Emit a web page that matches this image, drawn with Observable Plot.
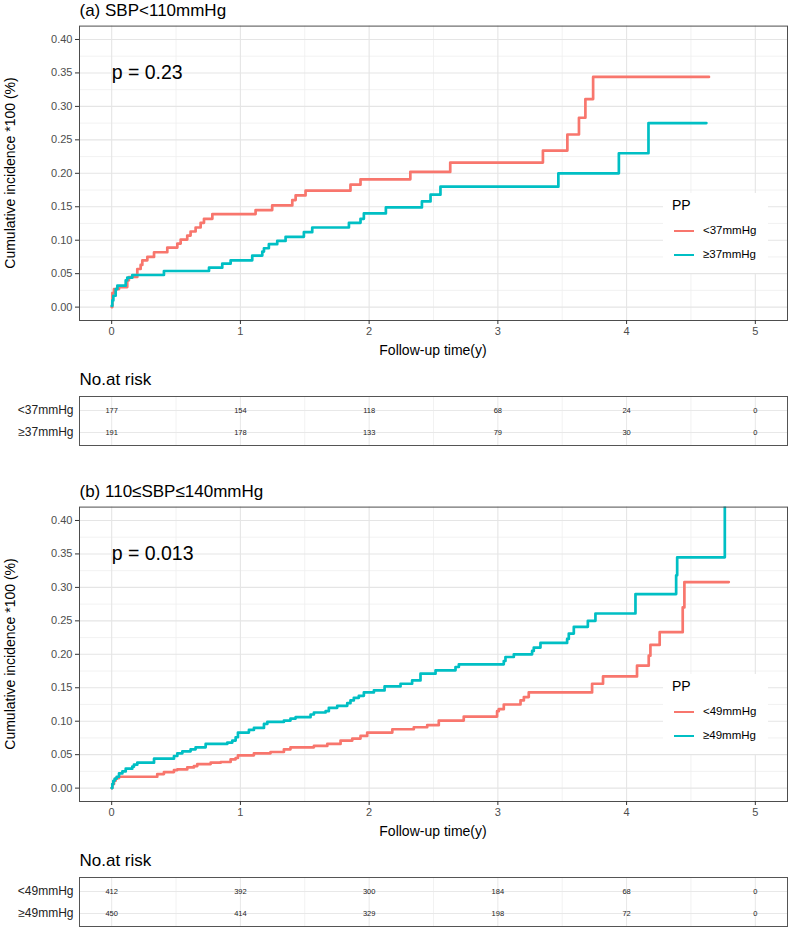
<!DOCTYPE html>
<html><head><meta charset="utf-8">
<script src="https://cdn.jsdelivr.net/npm/d3@7"></script>
<script src="https://cdn.jsdelivr.net/npm/@observablehq/plot@0.6"></script>
<style>
body{margin:0;background:#fff;font-family:"Liberation Sans",Arial,sans-serif;}
#root{position:relative;width:790px;height:929px;overflow:hidden;background:#fff;}
.abs{position:absolute;white-space:nowrap;}
</style></head><body><div id="root"></div>
<script>
// ---------- data ----------
const timeTicks = [0, 1, 2, 3, 4, 5];
const timeMinor = [0.5, 1.5, 2.5, 3.5, 4.5];
const yTicks = [0, 0.05, 0.10, 0.15, 0.20, 0.25, 0.30, 0.35, 0.40];
const yMinor = [0.025, 0.075, 0.125, 0.175, 0.225, 0.275, 0.325, 0.375];
const seriesColors = ["#F8766D", "#00BFC4"];
const legendTitle = "PP";
const xTitle = "Follow-up time(y)";
const yTitle = "Cumulative incidence *100 (%)";
const riskTitle = "No.at risk";

// Panel (a)
const titleA = "(a) SBP<110mmHg";
const groupsA = ["<37mmHg", "≥37mmHg"];
const pTextA = "p = 0.23";
const pPosA = [0, 0.35];
const lowA_t = [0,0.005,0.018,0.057,0.121,0.134,0.199,0.225,0.238,0.277,0.329,0.432,0.51,0.536,0.587,0.613,0.652,0.691,0.717,0.782,1.118,1.247,1.403,1.429,1.506,1.855,1.933,2.32,2.63,3.35,3.54,3.63,3.68,3.74,4.64];
const lowA_v = [0,0.021,0.027,0.030,0.040,0.045,0.057,0.063,0.070,0.075,0.082,0.089,0.095,0.101,0.107,0.113,0.119,0.126,0.132,0.139,0.145,0.152,0.160,0.167,0.174,0.183,0.191,0.202,0.216,0.234,0.258,0.283,0.311,0.344,0.344];
const highA_t = [0,0.005,0.013,0.031,0.044,0.109,0.121,0.16,0.406,0.756,0.859,0.924,1.092,1.17,1.183,1.221,1.286,1.351,1.493,1.558,1.843,1.933,1.959,2.13,2.41,2.477,2.554,3.47,3.94,4.17,4.62];
const highA_v = [0.002,0.010,0.017,0.027,0.032,0.040,0.044,0.048,0.054,0.059,0.065,0.070,0.077,0.083,0.088,0.094,0.099,0.105,0.112,0.119,0.126,0.132,0.140,0.149,0.158,0.168,0.180,0.200,0.230,0.275,0.275];
const riskLowA = [177, 154, 118, 68, 24, 0];
const riskHighA = [191, 178, 133, 79, 30, 0];

// Panel (b)
const titleB = "(b) 110≤SBP≤140mmHg";
const groupsB = ["<49mmHg", "≥49mmHg"];
const pTextB = "p = 0.013";
const pPosB = [0, 0.35];
const lowB_t = [0,0.005,0.018,0.031,0.057,0.354,0.406,0.484,0.51,0.587,0.639,0.665,0.769,0.847,0.924,0.963,0.981,1.105,1.234,1.338,1.389,1.571,1.675,1.778,1.869,1.933,1.985,2.18,2.347,2.451,2.541,2.735,2.994,3.007,3.046,3.176,3.202,3.240,3.732,3.817,4.081,4.172,4.185,4.257,4.436,4.449,4.794];
const lowB_v = [0,0.006,0.011,0.015,0.017,0.021,0.024,0.027,0.028,0.031,0.033,0.036,0.038,0.039,0.043,0.045,0.049,0.052,0.054,0.058,0.061,0.063,0.066,0.071,0.074,0.078,0.083,0.088,0.091,0.094,0.101,0.107,0.115,0.118,0.125,0.131,0.136,0.143,0.156,0.167,0.183,0.198,0.214,0.233,0.270,0.308,0.308];
const highB_t = [0,0.005,0.013,0.023,0.039,0.057,0.083,0.109,0.16,0.173,0.199,0.329,0.484,0.51,0.549,0.613,0.652,0.73,0.898,0.937,0.963,0.981,1.066,1.105,1.183,1.209,1.338,1.389,1.429,1.545,1.571,1.662,1.687,1.752,1.83,1.855,1.881,1.92,1.959,2.037,2.12,2.244,2.334,2.399,2.516,2.671,2.697,3.046,3.059,3.124,3.266,3.279,3.331,3.538,3.551,3.59,3.699,3.758,4.069,4.385,4.393,4.763];
const highB_v = [0,0.006,0.011,0.014,0.017,0.022,0.025,0.029,0.032,0.035,0.038,0.044,0.048,0.052,0.055,0.058,0.061,0.066,0.068,0.071,0.076,0.083,0.087,0.090,0.096,0.099,0.101,0.104,0.106,0.110,0.113,0.115,0.120,0.123,0.127,0.131,0.135,0.138,0.143,0.146,0.152,0.156,0.161,0.171,0.176,0.181,0.185,0.190,0.196,0.200,0.205,0.210,0.217,0.223,0.231,0.241,0.250,0.261,0.290,0.318,0.345,0.46];
const riskLowB = [412, 392, 300, 184, 68, 0];
const riskHighB = [450, 414, 329, 198, 72, 0];

// ---------- rendering ----------
const FONT = '"Liberation Sans", Arial, sans-serif';
const root = document.getElementById("root");

function addText(txt, left, top, size, opts = {}) {
  const d = document.createElement("div");
  d.className = "abs";
  d.textContent = txt;
  d.style.left = left + "px";
  d.style.top = top + "px";
  d.style.fontSize = size + "px";
  d.style.lineHeight = size + "px";
  d.style.color = opts.color || "#000";
  if (opts.width != null) { d.style.width = opts.width + "px"; d.style.textAlign = opts.align || "left"; }
  if (opts.transform) d.style.transform = opts.transform;
  root.appendChild(d);
  return d;
}
function addBox(left, top, w, h, bg) {
  const d = document.createElement("div");
  d.className = "abs";
  Object.assign(d.style, {left: left + "px", top: top + "px", width: w + "px", height: h + "px", background: bg});
  root.appendChild(d);
  return d;
}
function place(node, top) {
  node.style.position = "absolute";
  node.style.left = "0px";
  node.style.top = top + "px";
  root.appendChild(node);
}

function panel(off, title, groups, pText, pPos, s1t, s1v, s2t, s2v, risk1, risk2) {
  const rows = [
    ...s1t.map((t, i) => ({t, v: s1v[i], g: groups[0]})),
    ...s2t.map((t, i) => ({t, v: s2v[i], g: groups[1]}))
  ];
  const main = Plot.plot({
    width: 790, height: 360,
    marginLeft: 79, marginRight: 3, marginTop: 25.6, marginBottom: 40,
    x: {domain: [-0.25, 5.25], label: null},
    y: {domain: [-0.02, 0.42], label: null},
    color: {domain: groups, range: seriesColors},
    style: {fontFamily: FONT, background: "transparent", color: "#4d4d4d"},
    marks: [
      Plot.gridX(timeMinor, {stroke: "#efefef", strokeOpacity: 1, strokeWidth: 0.8}),
      Plot.gridY(yMinor, {stroke: "#efefef", strokeOpacity: 1, strokeWidth: 0.8}),
      Plot.gridX(timeTicks, {stroke: "#e5e5e5", strokeOpacity: 1, strokeWidth: 1.1}),
      Plot.gridY(yTicks, {stroke: "#e5e5e5", strokeOpacity: 1, strokeWidth: 1.1}),
      Plot.line(rows, {x: "t", y: "v", stroke: "g", curve: "step-after", strokeWidth: 2.7, clip: true}),
      Plot.text([{x: pPos[0], y: pPos[1], label: pText}], {x: "x", y: "y", text: "label", textAnchor: "start", fontSize: 19.5, fill: "#000"}),
      Plot.frame({stroke: "#4d4d4d", strokeWidth: 1}),
      Plot.axisX(timeTicks, {tickSize: 4, tickPadding: 3, fontSize: 11, fill: "#4d4d4d", stroke: "#333", tickFormat: d3.format("d"), label: null}),
      Plot.axisY(yTicks, {tickSize: 4, tickPadding: 3, fontSize: 11, fill: "#4d4d4d", stroke: "#333", tickFormat: d3.format(".2f"), label: null})
    ]
  });
  place(main, off);

  // titles
  addText(title, 79.5, off + 1.5, 17);
  addText(xTitle, 79, off + 343, 14, {width: 708, align: "center"});
  addText(yTitle, 10, off + 172.8, 14, {transform: "translate(-50%,-50%) rotate(-90deg)"});

  // legend
  addBox(663, off + 193, 105, 80, "#fff");
  addText(legendTitle, 672, off + 198, 14);
  [231, 255].forEach((cy, i) => {
    addBox(674, off + cy - 1.35, 19.5, 2.7, seriesColors[i]);
    addText(groups[i], 703, off + cy - 5.9, 11.5);
  });

  // risk table
  addText(riskTitle, 79.5, off + 370.5, 17);
  const riskRows = [
    ...risk1.map((n, i) => ({t: timeTicks[i], n, g: groups[0]})),
    ...risk2.map((n, i) => ({t: timeTicks[i], n, g: groups[1]}))
  ];
  const table = Plot.plot({
    width: 790, height: 57,
    marginLeft: 79, marginRight: 3, marginTop: 6, marginBottom: 2,
    x: {domain: [-0.25, 5.25], axis: null, label: null},
    y: {type: "point", domain: groups, padding: 0.6, label: null},
    style: {fontFamily: FONT, background: "transparent"},
    marks: [
      Plot.gridX(timeMinor, {stroke: "#efefef", strokeOpacity: 1, strokeWidth: 0.8}),
      Plot.gridX(timeTicks, {stroke: "#e8e8e8", strokeOpacity: 1, strokeWidth: 1}),
      Plot.gridY(groups, {stroke: "#e8e8e8", strokeOpacity: 1, strokeWidth: 1}),
      Plot.text(riskRows, {x: "t", y: "g", text: "n", fontSize: 7.5, fill: "#222"}),
      Plot.frame({stroke: "#555", strokeWidth: 1}),
      Plot.axisY(groups, {tickSize: 0, tickPadding: 6, fontSize: 12, fill: "#222", label: null})
    ]
  });
  place(table, off + 390);
}

panel(0, titleA, groupsA, pTextA, pPosA, lowA_t, lowA_v, highA_t, highA_v, riskLowA, riskHighA);
panel(481, titleB, groupsB, pTextB, pPosB, lowB_t, lowB_v, highB_t, highB_v, riskLowB, riskHighB);
</script>
</body></html>
